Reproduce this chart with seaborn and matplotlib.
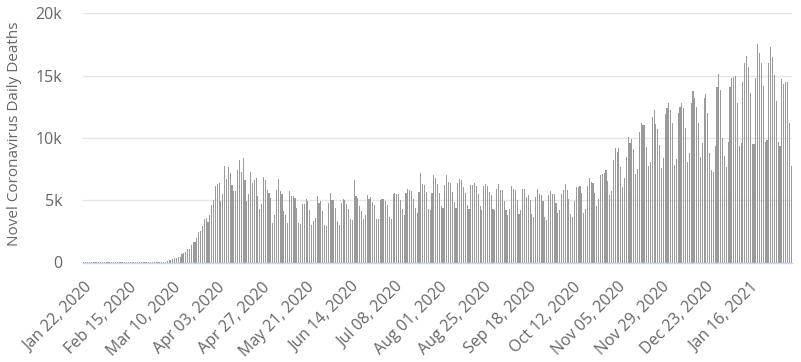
import numpy as np
import pandas as pd
import matplotlib
matplotlib.use("Agg")
import matplotlib.pyplot as plt
import seaborn as sns

# Daily deaths, Jan 22 2020 .. Feb 7 2021
jan_2020 = [2, 1, 2, 2, 3, 3, 3, 4, 4, 5]
feb_2020 = [5, 6, 6, 7, 7, 7, 8, 9, 9, 10, 10, 12, 12, 14, 14, 10, 10, 14,
            12, 12, 11, 10, 15, 7, 5, 3, 4, 4, 4]
mar_2020 = [20, 25, 30, 35, 40, 45, 100, 230, 210, 275, 330, 350, 440, 430, 700, 750,
            880, 1050, 1120, 1430, 1650, 1680, 1960, 2410, 2520, 2890, 3490, 3540, 3280,
            3800, 4610]
apr_2020 = [5000, 6100, 6300, 6400, 4900, 5500, 7750, 6700, 7700, 7200, 6200, 5700, 5700,
            7400, 8200, 7300, 8400, 6600, 4900, 5500, 7300, 6400, 6600, 6800, 5300, 4300,
            4700, 6900, 6600, 5800]
may_2020 = [5600, 5200, 3200, 3800, 5800, 6700, 5700, 5500, 4100, 3800, 3200, 5700, 5300,
            5300, 5200, 4400, 3200, 3100, 4700, 4700, 5100, 4900, 4200, 3000, 3300, 3600,
            5300, 4800, 4900, 4100, 3000]
jun_2020 = [2900, 4800, 5600, 5000, 5000, 4400, 3300, 3000, 4800, 5100, 5000, 4700, 4300,
            3500, 3400, 6600, 5300, 5200, 4500, 4100, 3500, 3800, 5400, 5100, 5270, 4870,
            4600, 3530, 3530, 5030]
jul_2020 = [5130, 5130, 4900, 4600, 3640, 3530, 5470, 5580, 5530, 5500, 5030, 4310, 3800,
            5580, 5930, 5850, 5700, 5130, 4370, 3960, 5660, 7190, 6340, 6200, 5660, 4310,
            4180, 5580, 7000, 6820, 6340]
aug_2020 = [5580, 4500, 4400, 6250, 7000, 6470, 6390, 5660, 4870, 4370, 6390, 6740, 6600,
            6020, 5580, 4600, 4290, 6200, 6250, 6400, 6140, 5500, 4530, 4200, 6140, 6340,
            6140, 5660, 5400, 4290, 4200]
sep_2020 = [5930, 6340, 5850, 5800, 4940, 4200, 3800, 4290, 6140, 5930, 5800, 5030, 3880,
            4200, 5930, 5930, 5270, 5400, 5030, 3880, 3640, 5270, 5930, 5500, 5400, 4940,
            3640, 3400, 5400, 5740]
oct_2020 = [5500, 5500, 4790, 3960, 4200, 5500, 5800, 6340, 5850, 5130, 3880, 3640, 4940,
            6020, 6020, 6140, 5600, 3990, 4290, 6140, 6800, 6480, 6400, 5600, 4560, 5060,
            7020, 7100, 7150, 7420, 6560]
nov_2020 = [5410, 5730, 8230, 9170, 8900, 9170, 7690, 6040, 6770, 8500, 10100, 9620, 9890,
            9090, 7070, 7470, 10500, 11230, 11040, 11040, 9250, 7750, 8100, 11700, 12240,
            11150, 10750, 9410, 7560, 8350]
dec_2020 = [11900, 12400, 12830, 12240, 11230, 7830, 8290, 12020, 12450, 12830, 12370,
            10770, 8100, 8820, 12780, 13770, 13180, 12460, 11170, 8430, 9580, 13180, 13530,
            12030, 8820, 7430, 7290, 9360, 14070, 15140, 13860]
jan_2021 = [9970, 8510, 7700, 9700, 14100, 14790, 14920, 14970, 12780, 9310, 9580, 14520,
            15990, 16580, 15670, 13580, 9530, 9530, 14790, 17540, 16790, 16040, 14200, 9700,
            9840, 16040, 17270, 16520, 15060, 13000, 9700]
feb_2021 = [9310, 14700, 14330, 14520, 14520, 11170, 7760]

start_date = "2020-01-22"
y_ticks = [0, 5000, 10000, 15000, 20000]
y_tick_labels = ["0", "5k", "10k", "15k", "20k"]
y_title = "Novel Coronavirus Daily Deaths"

values = (jan_2020 + feb_2020 + mar_2020 + apr_2020 + may_2020 + jun_2020 + jul_2020 +
          aug_2020 + sep_2020 + oct_2020 + nov_2020 + dec_2020 + jan_2021 + feb_2021)
dates = pd.date_range(start_date, periods=len(values), freq="D")
labels = [d.strftime("%b %d, %Y") for d in dates]
df = pd.DataFrame({"date": labels, "deaths": values})
N = len(values)

sns.set_theme(style="white")
plt.rcParams["font.family"] = ["Open Sans", "DejaVu Sans"]

W, H = 801, 362
fig = plt.figure(figsize=(W / 100, H / 100), dpi=100)
left, right, top, bottom = 83, 792, 13.3, 262.5
ax = fig.add_axes([left / W, 1 - bottom / H, (right - left) / W, (bottom - top) / H])

sns.barplot(data=df, x="date", y="deaths", color="#9a9a9a", saturation=1,
            width=0.6, errorbar=None, ax=ax, linewidth=0)

ax.set_xlim(-0.5, N - 0.5)
ax.set_ylim(0, 20000)

tick_idx = list(range(0, N, 24))
ax.set_xticks(tick_idx)
ax.set_xticklabels([labels[i] for i in tick_idx], rotation=45, ha="right", va="top",
                   rotation_mode="anchor", fontsize=11.5, color="#666666")
ax.tick_params(axis="x", length=0, pad=12)

ax.set_yticks(y_ticks)
ax.set_yticklabels(y_tick_labels, fontsize=11.5, color="#666666")
ax.tick_params(axis="y", length=0, pad=15)

ax.set_xlabel("")
ax.set_ylabel(y_title, fontsize=11, color="#666666")
ax.yaxis.set_label_coords(-0.0865, 0.515)

ax.set_axisbelow(True)
ax.yaxis.grid(True, color="#e6e6e6", linewidth=1)
ax.xaxis.grid(False)
for s in ["top", "right", "left"]:
    ax.spines[s].set_visible(False)
ax.spines["bottom"].set_color("#ccd6eb")
ax.spines["bottom"].set_linewidth(1)

fig.savefig("out.png", dpi=100)
